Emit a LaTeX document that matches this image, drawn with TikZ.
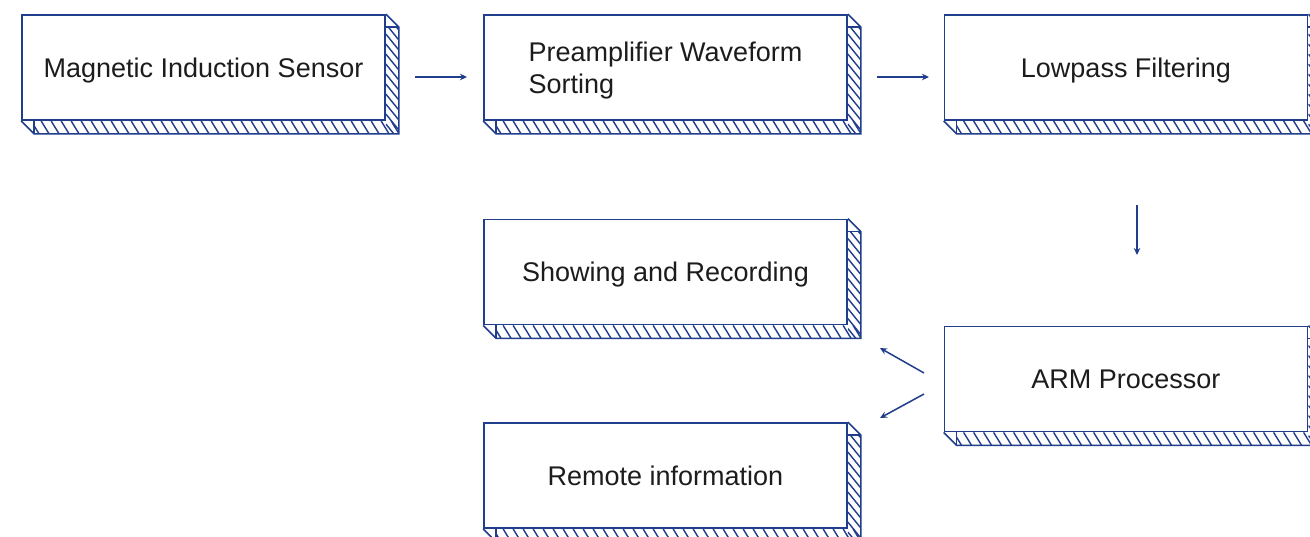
\documentclass[tikz,border=0pt]{standalone}
\usepackage{fontspec}
\setmainfont{Liberation Sans}
\usetikzlibrary{calc,arrows.meta}
\definecolor{bl}{RGB}{32,62,140}
\definecolor{txt}{RGB}{28,28,28}
\tikzset{
  blk/.style={draw=bl, line width=1.8pt, fill=white, minimum width=363pt, minimum height=105pt,
    inner sep=0pt, text=txt, font=\fontsize{27}{32}\selectfont, align=center, text depth=-1pt},
  edge/.style={draw=bl, line width=1.6pt, line join=miter},
  hl/.style={draw=bl, line width=1.4pt},
  arr/.style={draw=bl, line width=1.5pt, -{Stealth[length=7pt,width=6.5pt]}},
}
\newcommand\depthbox[1]{%
  \begin{scope}
    \clip ($(#1.north east)+(0,13)$) rectangle ($(#1.south east)+(13,13)$);
    \foreach \k in {-10,0,10,...,130} \draw[hl] ($(#1.north east)+(0,\k)$) -- ++(13,16);
  \end{scope}
  \begin{scope}
    \clip ($(#1.south west)+(13,0)$) rectangle ($(#1.south east)+(13,13)$);
    \foreach \k in {0,10,...,380} \draw[hl] ($(#1.south west)+(\k,0)$) -- ++(8,13);
  \end{scope}
  \draw[edge] (#1.north east) -- ++(13,13) -- ($(#1.south east)+(13,13)$) -- ($(#1.south west)+(13,13)$) -- (#1.south west);
  \draw[edge] ($(#1.north east)+(0,13)$) -- ++(13,0);
  \draw[edge] ($(#1.south west)+(13,0)$) -- ++(0,13);
}
\begin{document}
\begin{tikzpicture}[x=1pt,y=-1pt]
\clip (0,0) rectangle (1310,536);
\fill[white] (0,0) rectangle (1310,536);
\node[blk] (m1) at (203.5,67.5) {Magnetic Induction Sensor};
\node[blk, align=left] (m2) at (665.5,67.5) {Preamplifier Waveform\\Sorting};
\node[blk] (m3) at (1126,67.5) {Lowpass Filtering};
\node[blk] (m4) at (665.5,272) {Showing and Recording};
\node[blk] (m5) at (1126,379) {ARM Processor};
\node[blk] (m6) at (665.5,475.5) {Remote information};
\depthbox{m1}\depthbox{m2}\depthbox{m3}\depthbox{m4}\depthbox{m5}\depthbox{m6}
\coordinate (a1s) at (415,77); \coordinate (a1e) at (467,77);
\coordinate (a2s) at (877,77); \coordinate (a2e) at (929,77);
\coordinate (a3s) at (1137,205); \coordinate (a3e) at (1137,255);
\coordinate (a4s) at (924,373); \coordinate (a4e) at (880,348);
\coordinate (a5s) at (924,394); \coordinate (a5e) at (880,418);
\draw[arr] (a1s) -- (a1e);
\draw[arr] (a2s) -- (a2e);
\draw[arr] (a3s) -- (a3e);
\draw[arr] (a4s) -- (a4e);
\draw[arr] (a5s) -- (a5e);
\end{tikzpicture}
\end{document}
